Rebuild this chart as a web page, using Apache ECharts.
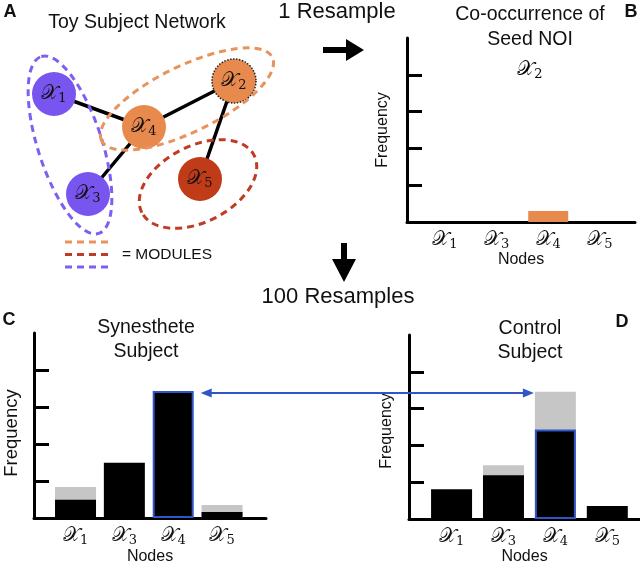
<!DOCTYPE html>
<html><head><meta charset="utf-8">
<script src="https://cdn.jsdelivr.net/npm/echarts@6/dist/echarts.min.js"></script>
<style>html,body{margin:0;padding:0;background:#fff}#c{width:640px;height:574px}</style>
</head><body><div id="c"></div>
<script>
// ---------- data ----------
// Panel A network (node subscripts, positions in the network's own 320x280 space)
const nodeSubs = ['1', '2', '3', '4', '5'];
const nodeX = [54, 234, 88, 144, 200];
const nodeY = [94, 81, 194, 127, 179];
const nodeModule = [0, 1, 0, 1, 2];
const seedNode = 1;
const edgeSource = [0, 3, 3, 1];
const edgeTarget = [3, 1, 2, 4];
// module outlines (center, radii, angle of major axis in degrees, clockwise)
const moduleCx = [70, 187, 198];
const moduleCy = [145, 99, 184];
const moduleRx = [93, 95, 63];
const moduleRy = [32, 33, 38];
const moduleAngle = [72, -26, -27];

// Bar panels
const barNodes = ['1', '3', '4', '5'];
const seedValues = [0, 0, 0.3, 0];          // B: 1 resample
const synBlack = [0.49, 1.49, 3.43, 0.16];  // C: synesthete
const synGray = [0.84, 0, 0, 0.35];
const ctlBlack = [0.81, 1.19, 2.43, 0.35];  // D: control
const ctlGray = [0, 1.46, 3.46, 0];
const freqTicks = [1, 2, 3, 4];
const highlightIndex = 2; // X4

// ---------- styling ----------
const moduleNodeColors = ['#7955f0', '#e8894d', '#c03c19'];
const moduleDashColors = ['#7e5ff2', '#e8925c', '#bf3b24'];
const BLUE = '#2f55c8';
const FONT = 'Liberation Sans, Arial, Helvetica, sans-serif';
const XFONT = 'DejaVu Serif, DejaVu Sans, serif';

const rich = {
  x: { fontSize: 20, fontFamily: XFONT, color: '#111', padding: [0, 0, 0, 0] },
  s: { fontSize: 13, fontFamily: XFONT, color: '#111', padding: [10, 0, 0, 0] }
};
const lab = sub => '{x|\u{1D4B3}}{s|' + sub + '}';

const chart = echarts.init(document.getElementById('c'), null, { renderer: 'canvas' });

const grids = [
  { left: 0, top: 0, width: 320, height: 280 },
  { left: 407, top: 38, width: 228, height: 184 },
  { left: 34, top: 333, width: 232, height: 185 },
  { left: 409, top: 335, width: 231, height: 184 }
];

function xAx(gi, min, max, gap) {
  return {
    type: 'value', gridIndex: gi, min: min, max: max,
    axisLine: { show: true, onZero: false, lineStyle: { color: '#000', width: 3 } },
    axisTick: { show: false }, splitLine: { show: false },
    axisLabel: {
      customValues: barNodes.map((_, i) => i + 1),
      formatter: v => lab(barNodes[Math.round(v) - 1]),
      rich: rich, margin: 6
    },
    name: 'Nodes', nameLocation: 'middle', nameGap: gap,
    nameTextStyle: { fontSize: 16, fontFamily: FONT, color: '#111' }
  };
}
function yAx(gi, gap, size, shift) {
  return {
    type: 'value', gridIndex: gi, min: 0, max: 5,
    axisLine: { show: true, onZero: false, lineStyle: { color: '#000', width: 3 } },
    axisTick: { show: true, inside: true, length: 15, customValues: freqTicks, lineStyle: { color: '#000', width: 3 } },
    axisLabel: { show: false }, splitLine: { show: false },
    name: 'Frequency', nameLocation: 'middle', nameGap: gap, nameRotate: 90,
    nameTextStyle: { fontSize: size, fontFamily: FONT, color: '#111', padding: [0, shift, 0, 0] }
  };
}

const pairs = arr => arr.map((v, i) => [i + 1, v]);
const blackItems = arr => arr.map((v, i) => i === highlightIndex
  ? { value: [i + 1, v], itemStyle: { color: '#000', borderColor: BLUE, borderWidth: 2 } }
  : { value: [i + 1, v] });

const option = {
  animation: false,
  backgroundColor: '#fff',
  grid: grids,
  xAxis: [
    { type: 'value', gridIndex: 0, min: 0, max: 320, show: false },
    xAx(1, 0.265, 4.68, 30),
    xAx(2, 0.15, 4.9, 31),
    xAx(3, 0.18, 4.63, 29)
  ],
  yAxis: [
    { type: 'value', gridIndex: 0, min: 0, max: 280, inverse: true, show: false },
    yAx(1, 16, 16, 0), yAx(2, 13, 18.5, 15), yAx(3, 14, 16, 8)
  ],
  series: [
    {
      type: 'graph', coordinateSystem: 'cartesian2d', xAxisIndex: 0, yAxisIndex: 0,
      symbolSize: 44, z: 3,
      data: nodeSubs.map((s, i) => ({
        name: 'X' + s, value: [nodeX[i], nodeY[i]],
        itemStyle: i === seedNode
          ? { color: moduleNodeColors[nodeModule[i]], borderColor: '#222', borderWidth: 1.5, borderType: 'dotted' }
          : { color: moduleNodeColors[nodeModule[i]] },
        label: { formatter: lab(s) }
      })),
      links: edgeSource.map((s, i) => ({ source: s, target: edgeTarget[i] })),
      lineStyle: { color: '#000', width: 3.5, opacity: 1, curveness: 0 },
      label: { show: true, position: 'inside', rich: rich },
      emphasis: { disabled: true }
    },
    { type: 'bar', xAxisIndex: 1, yAxisIndex: 1, data: pairs(seedValues), barWidth: 40, itemStyle: { color: '#e8894d' } },
    { type: 'bar', xAxisIndex: 2, yAxisIndex: 2, data: pairs(synGray), barWidth: 41, barGap: '-100%', itemStyle: { color: '#c6c6c6' } },
    { type: 'bar', xAxisIndex: 2, yAxisIndex: 2, data: blackItems(synBlack), barWidth: 41, barGap: '-100%', itemStyle: { color: '#000' } },
    { type: 'bar', xAxisIndex: 3, yAxisIndex: 3, data: pairs(ctlGray), barWidth: 41, barGap: '-100%', itemStyle: { color: '#c6c6c6' } },
    { type: 'bar', xAxisIndex: 3, yAxisIndex: 3, data: blackItems(ctlBlack), barWidth: 41, barGap: '-100%', itemStyle: { color: '#000' } }
  ]
};
chart.setOption(option);

// ---------- annotations ----------
function txt(t, x, y, size, weight, align) {
  return { type: 'text', x: x, y: y, z: 10, style: { text: t, font: (weight || 'normal') + ' ' + size + 'px ' + FONT, fill: '#111', align: align || 'center', verticalAlign: 'middle' } };
}
const g = [];
// module ellipses
for (let m = 0; m < moduleCx.length; m++) {
  const p = chart.convertToPixel({ xAxisIndex: 0, yAxisIndex: 0 }, [moduleCx[m], moduleCy[m]]);
  g.push({ type: 'ellipse', x: p[0], y: p[1], rotation: -moduleAngle[m] * Math.PI / 180, z: 5,
    shape: { cx: 0, cy: 0, rx: moduleRx[m], ry: moduleRy[m] },
    style: { fill: 'none', stroke: moduleDashColors[m], lineWidth: 3, lineDash: [7, 5] } });
}
// legend dashes
[1, 2, 0].forEach((m, k) => {
  g.push({ type: 'line', z: 5, shape: { x1: 65, y1: 242 + k * 12.5, x2: 109, y2: 242 + k * 12.5 },
    style: { stroke: moduleDashColors[m], lineWidth: 3, lineDash: [7, 5] } });
});
g.push(txt('= MODULES', 122, 255, 15.5, 'normal', 'left'));
g.push(txt('A', 10, 12, 18, 'bold'));
g.push(txt('B', 631, 12, 18, 'bold'));
g.push(txt('C', 9, 320, 18, 'bold'));
g.push(txt('D', 622, 322, 18, 'bold'));
g.push(txt('Toy Subject Network', 137, 23, 19.5));
g.push(txt('1 Resample', 337, 12, 22));
g.push(txt('100 Resamples', 338, 297, 22));
g.push(txt('Co-occurrence of', 530, 15, 19.5));
g.push(txt('Seed NOI', 530, 40, 19.5));
g.push({ type: 'text', x: 530, y: 70, z: 10, style: { text: lab('2'), rich: rich, align: 'center', verticalAlign: 'middle' } });
g.push(txt('Synesthete', 146, 328, 19.5));
g.push(txt('Subject', 146, 352, 19.5));
g.push(txt('Control', 530, 329, 19.5));
g.push(txt('Subject', 530, 353, 19.5));
// black flow arrows
g.push({ type: 'polygon', z: 5, shape: { points: [[323, 47], [346, 47], [346, 39], [364, 50], [346, 61], [346, 53], [323, 53]] }, style: { fill: '#000' } });
g.push({ type: 'polygon', z: 5, shape: { points: [[341, 243], [347, 243], [347, 259], [356, 259], [344, 282], [332, 259], [341, 259]] }, style: { fill: '#000' } });
// blue comparison arrow between the X4 bars
const pC = chart.convertToPixel({ xAxisIndex: 2, yAxisIndex: 2 }, [highlightIndex + 1, synBlack[highlightIndex]]);
const pD = chart.convertToPixel({ xAxisIndex: 3, yAxisIndex: 3 }, [highlightIndex + 1, ctlGray[highlightIndex]]);
const ay = pC[1] + 2, ax1 = pC[0] + 20.5 + 7, ax2 = pD[0] - 20.5 - 1;
g.push({ type: 'line', z: 6, shape: { x1: ax1 + 3, y1: ay, x2: ax2 - 3, y2: ay }, style: { stroke: BLUE, lineWidth: 2 } });
g.push({ type: 'polygon', z: 6, shape: { points: [[ax1, ay], [ax1 + 11, ay - 4.5], [ax1 + 11, ay + 4.5]] }, style: { fill: BLUE } });
g.push({ type: 'polygon', z: 6, shape: { points: [[ax2, ay], [ax2 - 11, ay - 4.5], [ax2 - 11, ay + 4.5]] }, style: { fill: BLUE } });
chart.setOption({ graphic: { elements: g } });
</script>
</body></html>
